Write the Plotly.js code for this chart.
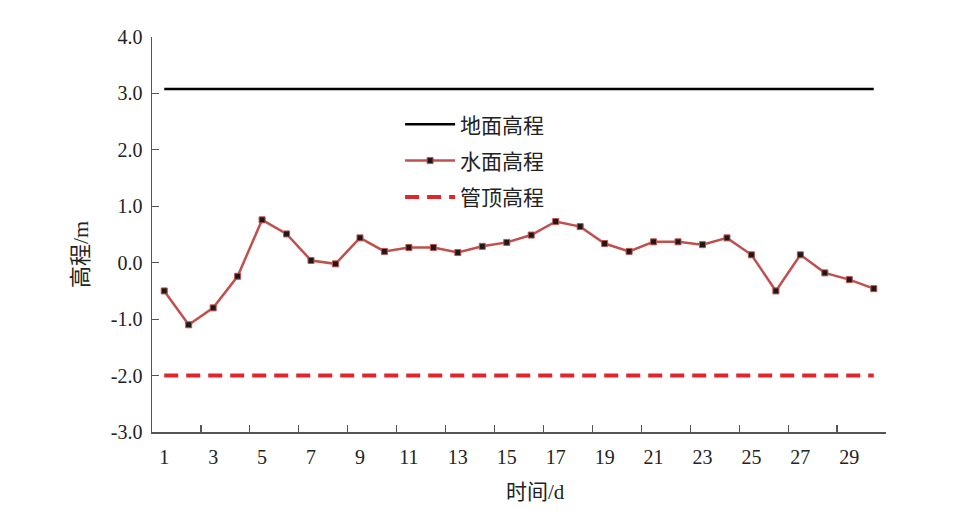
<!DOCTYPE html>
<html>
<head>
<meta charset="utf-8">
<script src="https://cdn.plot.ly/plotly-3.0.1.min.js"></script>
<style>html,body{margin:0;padding:0;background:#fff;}#chart{width:956px;height:516px;}</style>
</head>
<body>
<div id="chart"></div>
<script>
var days = [1,2,3,4,5,6,7,8,9,10,11,12,13,14,15,16,17,18,19,20,21,22,23,24,25,26,27,28,29,30];
var waterLevel = [-0.50,-1.10,-0.80,-0.24,0.76,0.51,0.04,-0.02,0.44,0.20,0.27,0.27,0.18,0.29,0.36,0.49,0.73,0.64,0.34,0.20,0.37,0.37,0.32,0.44,0.14,-0.50,0.14,-0.18,-0.30,-0.46];
var groundLevel = days.map(function(){ return 3.08; });
var pipeTop = days.map(function(){ return -2.0; });
var xTickVals = [1,3,5,7,9,11,13,15,17,19,21,23,25,27,29];
var xTickText = ["1","3","5","7","9","11","13","15","17","19","21","23","25","27","29"];
var xBoundaryTicks = [0.5,2.5,4.5,6.5,8.5,10.5,12.5,14.5,16.5,18.5,20.5,22.5,24.5,26.5,28.5,30.5];
var yTickVals = [-3,-2,-1,0,1,2,3,4];
var yTickText = ["-3.0","-2.0","-1.0","0.0","1.0","2.0","3.0","4.0"];
var names = ["地面高程","水面高程","管顶高程"];
var xTitle = "时间/d";
var yTitle = "高程/m";

var fontFam = "Liberation Serif, Noto Sans CJK SC, serif";
var traces = [
  {x: days, y: groundLevel, name: names[0], mode: "lines", legendgroup: "a",
   line: {color: "#000000", width: 2.5}},
  {x: days, y: waterLevel, name: names[1], mode: "lines+markers", legendgroup: "b",
   line: {color: "#C0504D", width: 2.5},
   marker: {symbol: "square", size: 6, color: "#1a1a1a", line: {color: "#C0504D", width: 1}}},
  {x: days, y: pipeTop, name: names[2], mode: "lines", legendgroup: "c",
   line: {color: "#E0262C", width: 4, dash: "14px,8px"}},
  {x: days, y: waterLevel, xaxis: "x2", mode: "markers", showlegend: false, hoverinfo: "skip",
   marker: {opacity: 0, size: 1}}
];
var layout = {
  width: 956, height: 516,
  margin: {l: 152, r: 70, t: 37, b: 84},
  paper_bgcolor: "#ffffff", plot_bgcolor: "#ffffff",
  showlegend: true,
  legend: {x: 0.338, y: 0.83, xanchor: "left", yanchor: "top", bgcolor: "rgba(0,0,0,0)",
           font: {family: "Noto Sans CJK SC, sans-serif", size: 21, color: "#222"},
           tracegroupgap: 6, itemwidth: 50},
  xaxis: {range: [0.5, 30.5], tickmode: "array", tickvals: xBoundaryTicks, showticklabels: false,
          ticks: "inside", ticklen: 7, tickcolor: "#555", tickwidth: 1.2,
          showgrid: false, zeroline: false, showline: true, linecolor: "#555", linewidth: 1.5},
  xaxis2: {overlaying: "x", side: "bottom", anchor: "y", range: [0.5, 30.5], tickmode: "array", tickvals: xTickVals, ticktext: xTickText,
          ticks: "", showgrid: false, zeroline: false, showline: false,
          tickfont: {family: fontFam, size: 20, color: "#222"}, ticklabelstandoff: 11},
  yaxis: {range: [-3, 4], tickmode: "array", tickvals: yTickVals, ticktext: yTickText,
          ticks: "inside", ticklen: 7, tickcolor: "#555", tickwidth: 1.2,
          showgrid: false, zeroline: false, showline: true, linecolor: "#555", linewidth: 1.5,
          tickfont: {family: fontFam, size: 20, color: "#222"}, ticklabelstandoff: 4},
  annotations: [
    {text: xTitle, xref: "paper", yref: "paper", x: (535-152)/734, y: (432-492)/395, xanchor: "center", yanchor: "middle",
     showarrow: false, font: {family: fontFam, size: 21, color: "#222"}},
    {text: yTitle, xref: "paper", yref: "paper", x: (80-152)/734, y: (432-255)/395, xanchor: "center", yanchor: "middle",
     textangle: -90, showarrow: false, font: {family: fontFam, size: 22, color: "#222"}}
  ]
};
Plotly.newPlot("chart", traces, layout, {displayModeBar: false, staticPlot: true});
</script>
</body>
</html>
